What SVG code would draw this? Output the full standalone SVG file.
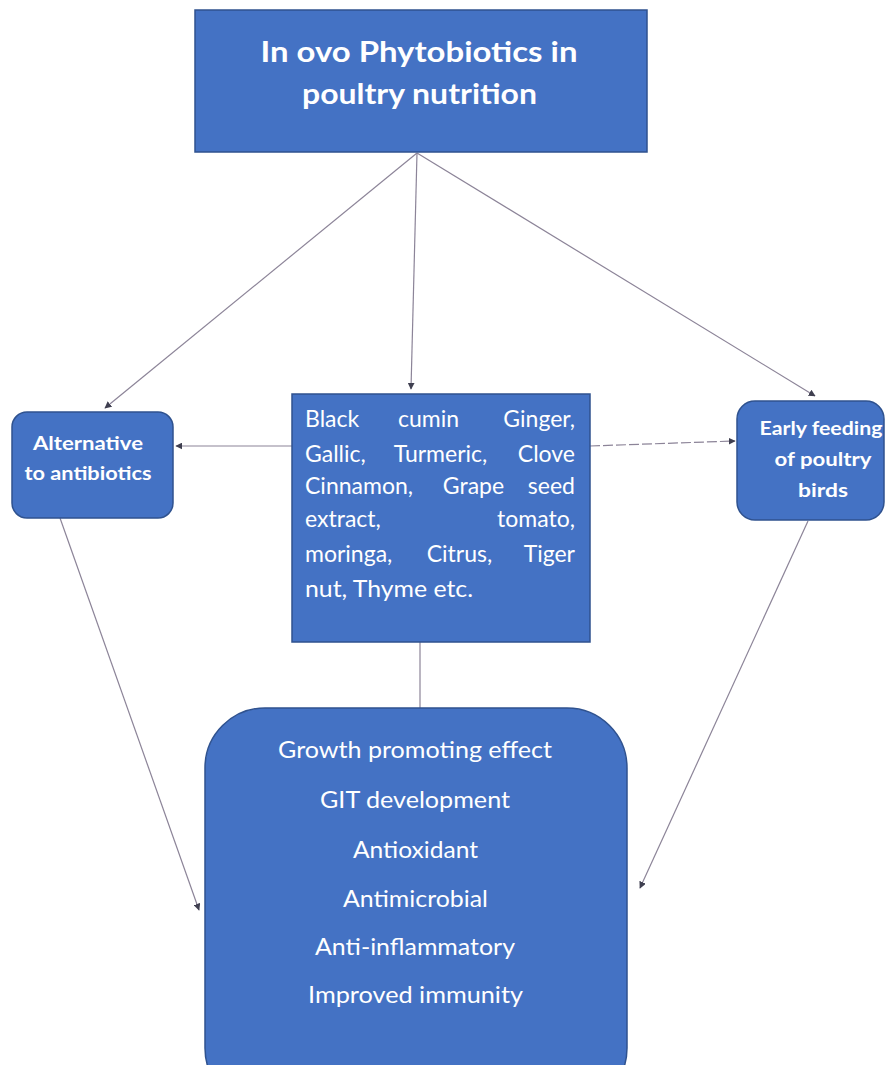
<svg xmlns="http://www.w3.org/2000/svg" width="893" height="1065" viewBox="0 0 893 1065">
<style>
.box{fill:#4472C4;stroke:#2F528F;stroke-width:1.5}
.t{fill:#ffffff;font-family:Lato,"Open Sans","Liberation Sans",sans-serif}
.b{font-weight:bold}
.c{text-anchor:middle}
.e{text-anchor:end}
.ln{stroke:#8C8498;stroke-width:1.2;fill:none}
</style>
<defs>
<marker id="ah" viewBox="0 0 10 10" refX="9" refY="5" markerWidth="7" markerHeight="7" orient="auto" markerUnits="userSpaceOnUse">
<path d="M0,0 L10,5 L0,10 z" fill="#3F3F50"/>
</marker>
</defs>
<rect width="893" height="1065" fill="#ffffff"/>
<g id="connectors">
<line class="ln" x1="417" y1="153" x2="105" y2="408" marker-end="url(#ah)"/>
<line class="ln" x1="417" y1="153" x2="411" y2="389" marker-end="url(#ah)"/>
<line class="ln" x1="417" y1="153" x2="815" y2="396" marker-end="url(#ah)"/>
<line class="ln" x1="292" y1="446" x2="176" y2="446" marker-end="url(#ah)"/>
<line class="ln" x1="590" y1="446" x2="735" y2="441" stroke-dasharray="10,3" marker-end="url(#ah)"/>
<line class="ln" x1="420" y1="642" x2="420" y2="708"/>
<line class="ln" x1="60" y1="518" x2="199" y2="910" marker-end="url(#ah)"/>
<line class="ln" x1="808" y1="521" x2="640" y2="888" marker-end="url(#ah)"/>
</g>
<g id="node-title">
<rect class="box" x="195" y="10" width="452" height="142"/>
<text class="t b c" x="419" y="62" font-size="29" textLength="317" lengthAdjust="spacingAndGlyphs">In ovo  Phytobiotics  in</text>
<text class="t b c" x="419.5" y="104" font-size="29" textLength="235" lengthAdjust="spacingAndGlyphs">poultry nutrition</text>
</g>
<g id="node-alternative">
<rect class="box" x="12" y="412" width="161" height="106" rx="15"/>
<text class="t b c" x="88" y="450" font-size="19" textLength="110" lengthAdjust="spacingAndGlyphs">Alternative</text>
<text class="t b c" x="88" y="480" font-size="19" textLength="127" lengthAdjust="spacingAndGlyphs">to antibiotics</text>
</g>
<g id="node-plants">
<rect class="box" x="292" y="394" width="298" height="248"/>
<g class="t" font-size="23">
<text x="305" y="427">Black</text><text x="428.5" y="427" class="c">cumin</text><text x="575" y="427" class="e">Ginger,</text>
<text x="305" y="462">Gallic,</text><text x="440.5" y="462" class="c">Turmeric,</text><text x="575" y="462" class="e">Clove</text>
<text x="305" y="494">Cinnamon,</text><text x="473.5" y="494" class="c">Grape</text><text x="575" y="494" class="e">seed</text>
<text x="305" y="527">extract,</text><text x="575" y="527" class="e">tomato,</text>
<text x="305" y="562">moringa,</text><text x="459.5" y="562" class="c">Citrus,</text><text x="575" y="562" class="e">Tiger</text>
<text x="305" y="597" textLength="168" lengthAdjust="spacingAndGlyphs">nut, Thyme etc.</text>
</g>
</g>
<g id="node-early">
<rect class="box" x="737" y="401" width="147" height="119" rx="18"/>
<text class="t b c" x="821" y="435" font-size="19" textLength="123" lengthAdjust="spacingAndGlyphs">Early feeding</text>
<text class="t b c" x="823" y="466" font-size="19" textLength="97" lengthAdjust="spacingAndGlyphs">of poultry</text>
<text class="t b c" x="823" y="497" font-size="19" textLength="50" lengthAdjust="spacingAndGlyphs">birds</text>
</g>
<g id="node-effects">
<rect class="box" x="205" y="708" width="422" height="400" rx="60"/>
<g class="t c" font-size="23" lengthAdjust="spacingAndGlyphs">
<text x="415" y="758" textLength="274" lengthAdjust="spacingAndGlyphs">Growth promoting effect</text>
<text x="415" y="808" textLength="190" lengthAdjust="spacingAndGlyphs">GIT development</text>
<text x="415.5" y="858" textLength="125" lengthAdjust="spacingAndGlyphs">Antioxidant</text>
<text x="415.5" y="907" textLength="145" lengthAdjust="spacingAndGlyphs">Antimicrobial</text>
<text x="415" y="955" textLength="200" lengthAdjust="spacingAndGlyphs">Anti-inflammatory</text>
<text x="415.5" y="1003" textLength="215" lengthAdjust="spacingAndGlyphs">Improved immunity</text>
</g>
</g>
</svg>
